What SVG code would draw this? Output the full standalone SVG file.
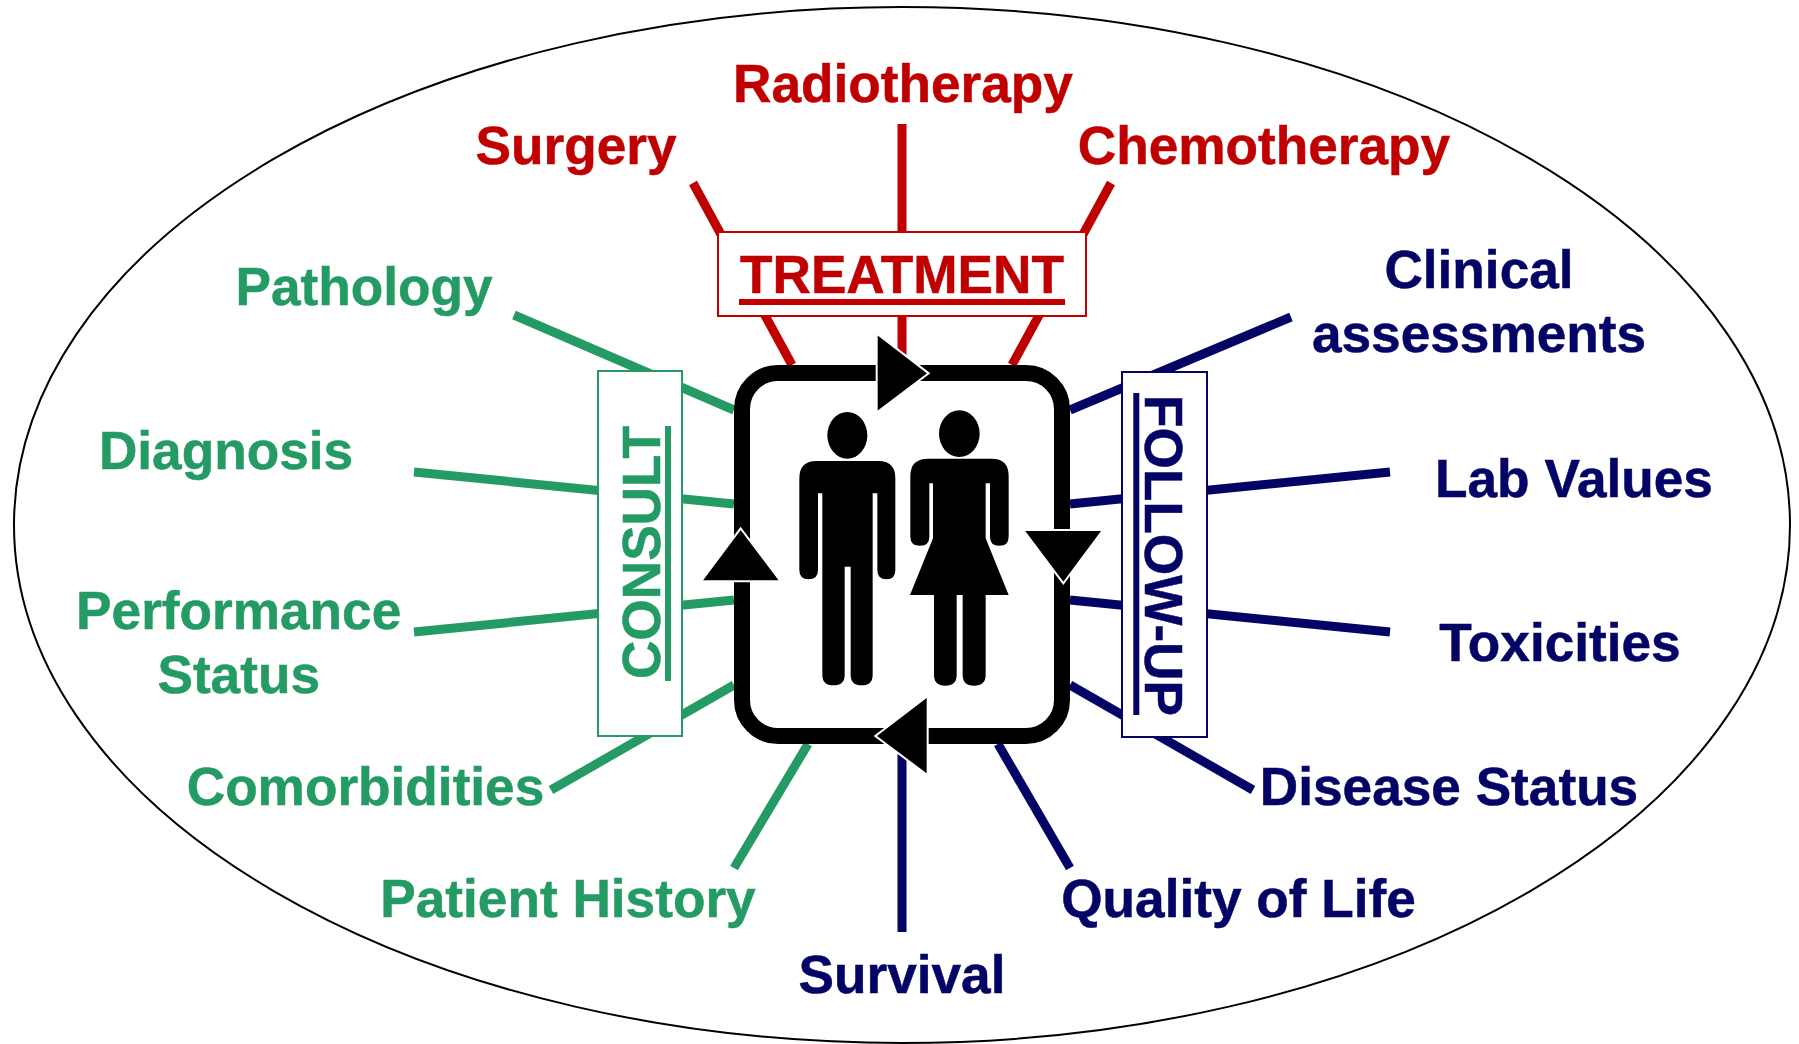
<svg xmlns="http://www.w3.org/2000/svg" width="1799" height="1044" viewBox="0 0 1799 1044">
<style>
text{font-family:"Liberation Sans",Arial,sans-serif;font-weight:700;font-size:53.2px;text-anchor:middle;stroke-width:.5}
.r{fill:#c00000}.g{fill:#249a64}.n{fill:#040466}
text.r{stroke:#c00000}text.g{stroke:#249a64}text.n{stroke:#040466}
.lr{stroke:#c00000}.lg{stroke:#249a64}.ln{stroke:#040466}
#connectors line{stroke-width:9;fill:none}
.box{fill:#fff;stroke-width:2}
.tri{fill:#000;stroke:#fff;stroke-width:6}
</style>
<rect width="1799" height="1044" fill="#fff"/>
<ellipse id="boundary" cx="902" cy="525" rx="888" ry="518" fill="#fff" stroke="#000" stroke-width="2"/>
<g id="connectors">
<line class="lr" x1="693" y1="183" x2="792" y2="365"/>
<line class="lr" x1="902" y1="124" x2="902" y2="365"/>
<line class="lr" x1="1111" y1="183" x2="1012" y2="365"/>
<line class="lg" x1="514" y1="315" x2="734" y2="410"/>
<line class="lg" x1="414" y1="472" x2="734" y2="504"/>
<line class="lg" x1="414" y1="632" x2="734" y2="600"/>
<line class="lg" x1="551" y1="790" x2="734" y2="685"/>
<line class="lg" x1="734" y1="868" x2="808" y2="744"/>
<line class="ln" x1="902" y1="744" x2="902" y2="932"/>
<line class="ln" x1="1070" y1="868" x2="998" y2="744"/>
<line class="ln" x1="1291" y1="317" x2="1070" y2="410"/>
<line class="ln" x1="1390" y1="472" x2="1070" y2="504"/>
<line class="ln" x1="1390" y1="632" x2="1070" y2="600"/>
<line class="ln" x1="1253" y1="790" x2="1070" y2="685"/>
</g>
<g id="treatment"><rect class="box lr" x="718" y="232" width="368" height="84"/><text class="r" x="902" y="293">TREATMENT</text><rect class="r" x="739" y="299" width="326" height="6"/></g>
<g id="consult"><rect class="box lg" x="598" y="371" width="84" height="365"/><text class="g" transform="translate(659.5,552.5) rotate(-90)">CONSULT</text><rect class="g" x="665" y="426" width="6" height="255"/></g>
<g id="followup"><rect class="box ln" x="1122" y="372" width="85" height="365"/><text class="n" transform="translate(1145,555.5) rotate(90)">FOLLOW-UP</text><rect class="n" x="1133.3" y="393" width="6" height="322"/></g>
<g id="cycle">
<rect x="742" y="373" width="320" height="363" rx="36" fill="#fff" stroke="#000" stroke-width="16"/>
<g transform="translate(680,320) scale(.33333)">
<polygon class="tri" points="590,40 590,278 746,160"/>
<polygon class="tri" points="743,1128 743,1366 586,1248"/>
<polygon class="tri" points="182,625 63,784 302,784"/>
<polygon class="tri" points="1150,790 1030,630 1269,630"/>
</g>
</g>
<g id="man" transform="translate(680,320) scale(.33333)">
<ellipse cx="502" cy="346" rx="60" ry="70"/>
<path d="M410 423H595Q646 423 646 475V750Q646 778 620 778Q592 778 592 750V520H578V1065Q578 1096 545 1096Q512 1096 512 1065V740H494V1065Q494 1096 460 1096Q427 1096 427 1065V520H414V750Q414 778 386 778Q358 778 358 750V475Q358 423 410 423Z"/>
</g>
<g id="woman" transform="translate(680,320) scale(.33333)">
<ellipse cx="838" cy="341" rx="61" ry="70"/>
<path d="M745 416H935Q986 416 986 468V650Q986 677 958 677Q930 677 930 650V490H917V655L986 825H917V1065Q917 1097 882 1097Q848 1097 848 1065V825H830V1065Q830 1097 796 1097Q762 1097 762 1065V825H690L759 655V490H748V650Q748 677 720 677Q691 677 691 650V468Q691 416 745 416Z"/>
</g>
<g id="labels">
<text class="r" x="903" y="102">Radiotherapy</text>
<text class="r" x="576" y="164">Surgery</text>
<text class="r" x="1264" y="164">Chemotherapy</text>
<text class="g" x="364" y="305">Pathology</text>
<text class="g" x="226" y="469">Diagnosis</text>
<text class="g" x="238.7" y="629">Performance</text>
<text class="g" x="238.7" y="693">Status</text>
<text class="g" x="365.5" y="805">Comorbidities</text>
<text class="g" x="568" y="917">Patient History</text>
<text class="n" x="902" y="993">Survival</text>
<text class="n" x="1238.5" y="917">Quality of Life</text>
<text class="n" x="1449" y="805">Disease Status</text>
<text class="n" x="1560" y="661">Toxicities</text>
<text class="n" x="1574" y="497">Lab Values</text>
<text class="n" x="1479" y="288">Clinical</text>
<text class="n" x="1479" y="352">assessments</text>
</g>
</svg>
